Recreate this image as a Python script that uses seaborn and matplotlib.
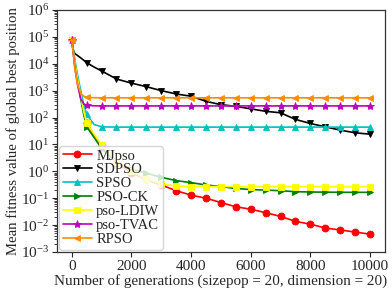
import numpy as np
import pandas as pd
import matplotlib
matplotlib.use("Agg")
import matplotlib.pyplot as plt
from matplotlib.ticker import LogLocator, NullFormatter
import seaborn as sns

# generations at which the curves were read
gens = [0, 50, 100, 200, 300, 400, 500, 750, 1000, 1500, 2000, 2500, 3000, 3500,
        4000, 4500, 5000, 5500, 6000, 6500, 7000, 7500, 8000, 8500, 9000, 9500, 10000]

mjpso = [7.5e4, 3e4, 1.2e4, 2.5e3, 600, 160, 60, 22, 9, 2.1, 0.9, 0.5, 0.31, 0.19,
         0.13, 0.1, 0.069, 0.048, 0.039, 0.029, 0.021, 0.0138, 0.0108, 0.0078, 0.0066, 0.0055, 0.0046]
sdpso = [7.5e4, 3.2e4, 2.4e4, 2.0e4, 1.65e4, 1.35e4, 1.1e4, 7.5e3, 5.4e3, 2.7e3, 1.9e3, 1.4e3, 1.0e3, 750,
         620, 400, 300, 260, 210, 170, 150, 85, 60, 45, 34, 27, 24]
spso = [7.5e4, 3.5e4, 1.5e4, 3.5e3, 1.0e3, 320, 130, 55, 45, 44, 44, 44, 44, 44,
        44, 44, 44, 44, 44, 44, 44, 44, 44, 44, 44, 44, 44]
pso_ck = [7.5e4, 3e4, 1.1e4, 2.2e3, 500, 130, 45, 18, 7, 2.2, 1.2, 0.85, 0.6, 0.45,
          0.38, 0.31, 0.27, 0.23, 0.21, 0.2, 0.19, 0.175, 0.17, 0.168, 0.166, 0.165, 0.165]
pso_ldiw = [7.5e4, 3e4, 1.2e4, 2.5e3, 650, 170, 62, 24, 9.5, 2.3, 1.0, 0.52, 0.34, 0.28,
            0.27, 0.27, 0.27, 0.27, 0.27, 0.27, 0.27, 0.27, 0.27, 0.27, 0.27, 0.27, 0.27]
pso_tvac = [7.5e4, 2.5e4, 8e3, 1.5e3, 500, 320, 285, 272, 270, 270, 270, 270, 270, 270,
            270, 270, 270, 270, 270, 270, 270, 270, 270, 270, 270, 270, 270]
rpso = [7.5e4, 2.5e4, 7e3, 1.6e3, 800, 620, 560, 545, 540, 540, 540, 540, 540, 540,
        540, 540, 540, 540, 540, 540, 540, 540, 540, 540, 540, 540, 540]

names = ["MJpso", "SDPSO", "SPSO", "PSO-CK", "pso-LDIW", "pso-TVAC", "RPSO"]
series = [mjpso, sdpso, spso, pso_ck, pso_ldiw, pso_tvac, rpso]
colors = ["red", "black", "c", "g", "yellow", "m", "darkorange"]
markers = ["o", "v", "^", ">", "s", "*", "<"]

sns.set_style("ticks")
plt.rcParams["font.family"] = ["Liberation Serif", "DejaVu Serif"]
plt.rcParams["mathtext.fontset"] = "custom"
plt.rcParams["mathtext.rm"] = "Liberation Serif"

fig = plt.figure(figsize=(3.92, 2.92), dpi=100)
ax = fig.add_axes([0.145, 0.137, 0.837, 0.829])

# markers every 500 generations
mark_idx = [i for i, g in enumerate(gens) if g % 500 == 0]

for name, vals, c, m in zip(names, series, colors, markers):
    df = pd.DataFrame({"gen": gens, "val": vals})
    sns.lineplot(data=df, x="gen", y="val", ax=ax, color=c, marker=m,
                 markersize=6 if m == "*" else 5, markeredgewidth=0.6, markeredgecolor=c,
                 linewidth=1.2, markevery=mark_idx, label=name)

ax.set_yscale("log")
ax.set_ylim(1e-3, 1e6)
ax.set_yticks([10.0 ** k for k in range(-3, 7)])
ax.yaxis.set_minor_locator(LogLocator(base=10, subs=np.arange(2, 10), numticks=20))
ax.yaxis.set_minor_formatter(NullFormatter())
ax.set_xlim(-500, 10500)
ax.set_xticks([0, 2000, 4000, 6000, 8000, 10000])
ax.tick_params(labelsize=11, length=3.5, pad=2)
ax.tick_params(axis="y", which="minor", length=2, width=0.6)
ax.set_xlabel("Number of generations (sizepop = 20, dimension = 20)", fontsize=10.9, labelpad=1)
ax.set_ylabel("Mean fitness value of global best position", fontsize=10.6, labelpad=1)
for s in ax.spines.values():
    s.set_color("#333333")
    s.set_linewidth(0.9)

leg = ax.legend(loc="lower left", fontsize=10.5, handlelength=2.0, handletextpad=0.3,
                labelspacing=0.05, borderpad=0.25, borderaxespad=0.15, frameon=True)
leg.get_frame().set_edgecolor("#cccccc")

fig.savefig("out.png", dpi=100)
